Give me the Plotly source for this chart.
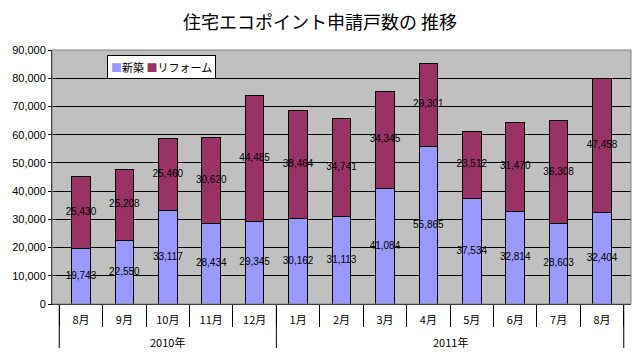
import plotly.graph_objects as go

year_names = ["2010年", "2011年"]
year_counts = [5, 8]
# the second "8月" carries a zero-width space so it stays a separate category
months = ["8月", "9月", "10月", "11月", "12月", "1月", "2月", "3月", "4月", "5月", "6月", "7月", "8月\u200b"]
shinchiku = [19743, 22550, 33117, 28434, 29345, 30162, 31113, 41084, 55865, 37534, 32814, 28603, 32404]
reform = [25430, 25208, 25460, 30620, 44485, 38464, 34741, 34345, 29301, 23512, 31470, 36308, 47458]
series_names = ["新築", "リフォーム"]
colors = ["#9999FF", "#993366"]

font_lbl = dict(family="Liberation Sans, Arial, sans-serif", size=10, color="black")

fig = go.Figure()
for vals, name, col in zip([shinchiku, reform], series_names, colors):
    fig.add_trace(go.Bar(x=months, y=vals, name=name, showlegend=False,
                         marker=dict(color=col, line=dict(color="black", width=1))))

fig.add_trace(go.Scatter(
    x=months, y=[v / 2 for v in shinchiku], mode="text",
    text=[f"{v:,}" for v in shinchiku], textfont=font_lbl,
    showlegend=False, hoverinfo="skip"))
fig.add_trace(go.Scatter(
    x=months, y=[a + b / 2 for a, b in zip(shinchiku, reform)], mode="text",
    text=[f"{v:,}" for v in reform], textfont=font_lbl,
    showlegend=False, hoverinfo="skip"))

legend_text = " ".join(
    f'<span style="color:{c}">■</span>{n}' for n, c in zip(series_names, colors))
fig.add_annotation(text=legend_text, xref="x domain", yref="y domain", x=0.095, y=0.98,
                   xanchor="left", yanchor="top", showarrow=False, align="left",
                   bgcolor="white", bordercolor="black", borderwidth=1, borderpad=3,
                   font=dict(family="Noto Sans CJK JP", size=11, color="black"))

# year group labels and dividers below the month row
start = 0
bounds = [-0.5]
for name, cnt in zip(year_names, year_counts):
    fig.add_annotation(text=name, xref="x", yref="y domain", x=start + (cnt - 1) / 2, y=-0.15,
                       xanchor="center", yanchor="middle", showarrow=False,
                       font=dict(family="Noto Sans CJK JP", size=11, color="black"))
    start += cnt
    bounds.append(start - 0.5)
for b in bounds:
    fig.add_shape(type="line", xref="x", yref="y domain", x0=b, x1=b, y0=0, y1=-44 / 254,
                  line=dict(color="black", width=1))

# page body adds an 8px offset, so the figure is 632x352 with margins shifted accordingly
fig.update_layout(
    barmode="stack",
    bargap=0.57,
    width=632, height=352,
    margin=dict(l=44, r=9, t=42, b=56),
    paper_bgcolor="white",
    plot_bgcolor="#C0C0C0",
    title=dict(text="住宅エコポイント申請戸数の 推移", x=(320 - 8) / 632, xanchor="center",
               yref="container", y=1 - 15 / 352, yanchor="middle",
               font=dict(family="Noto Sans CJK JP", size=18, color="black")),
    font=dict(family="Noto Sans CJK JP", size=10, color="black"),
)
fig.update_yaxes(range=[0, 90000], dtick=10000, tickformat=",", showgrid=True, gridcolor="black", gridwidth=1,
                 showline=True, linecolor="black", linewidth=1, ticks="outside", ticklen=3, tickcolor="black",
                 zeroline=False, automargin=False,
                 tickfont=dict(family="Liberation Sans, Arial, sans-serif", size=11, color="black"))
fig.update_xaxes(type="category", showline=True, linecolor="black", linewidth=1,
                 tickson="boundaries", ticks="outside", ticklen=22, tickcolor="black",
                 automargin=False, ticklabelstandoff=6,
                 tickfont=dict(family="Noto Sans CJK JP", size=11, color="black"))
fig.add_shape(type="rect", xref="x domain", yref="y domain", x0=0, x1=1, y0=0, y1=1,
              line=dict(color="#808080", width=1), layer="above")
fig.write_html("out.html")
